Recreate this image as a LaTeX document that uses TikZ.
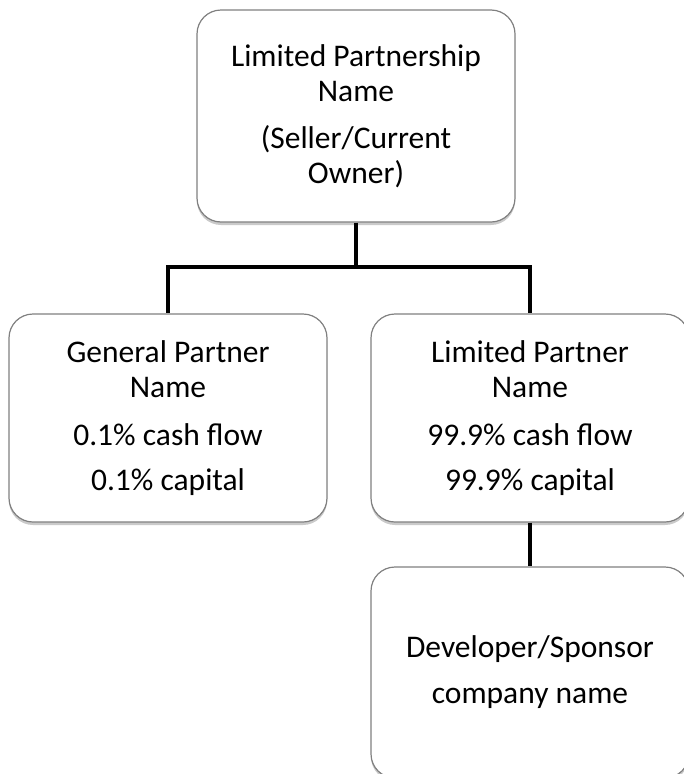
\documentclass[tikz,border=0pt]{standalone}
\usepackage{fontspec}
\setmainfont{Carlito}
\usepackage{tikz}
\usetikzlibrary{shadows}

\tikzset{
  entity/.style={draw=black!50, line width=1.2pt, fill=white, rounded corners=24pt,
    minimum width=318pt, inner sep=0pt, align=center,
    font=\fontsize{31.5}{35}\selectfont,
    drop shadow={shadow xshift=0pt, shadow yshift=-3pt, opacity=0.35, fill=black!60}},
  link/.style={line width=4.5pt, black}
}

\begin{document}
\begin{tikzpicture}[x=1pt,y=-1pt]
 %the ownership chart
  \useasboundingbox (0,0) rectangle (683,774);
  %draw boxes
    \node[entity, minimum height=212pt] (lpname) at (356,116)
      {Limited Partnership\\ Name\\[12pt] (Seller/Current\\ Owner)};
    \node[entity, minimum height=208pt] (gp) at (168,418)
      {General Partner\\ Name\\[13pt] 0.1\% cash flow\\[10pt] 0.1\% capital};
    \node[entity, minimum height=208pt] (lp) at (530,418)
      {Limited Partner\\ Name\\[13pt] 99.9\% cash flow\\[10pt] 99.9\% capital};
    \node[entity, minimum height=211pt] (dev) at (530,672.5)
      {Developer/Sponsor\\[11pt] company name};
  %draw links
    \coordinate (split) at (356,267);
    \draw[link] (lpname.south) -- (split) -| (gp.north);
    \draw[link] (split) -| (lp.north);
    \draw[link] (lp.south) -- (dev.north);
\end{tikzpicture}
\end{document}
